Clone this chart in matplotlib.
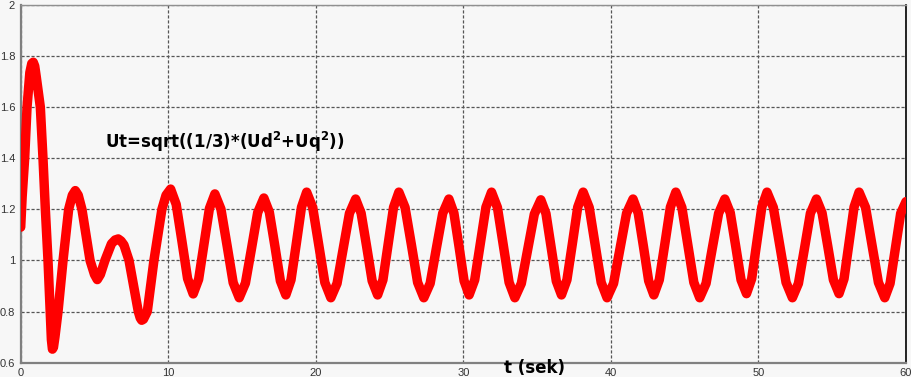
import numpy as np
import matplotlib
matplotlib.use('Agg')
import matplotlib.pyplot as plt

# Ut над временем
t_start = [0.00, 0.10, 0.27, 0.43, 0.62, 0.75, 0.85, 0.95, 1.05, 1.33, 1.51, 1.67, 1.85, 2.00, 2.08,
           2.15, 2.22, 2.32, 2.53, 2.87, 3.25, 3.50, 3.70, 3.90, 4.15, 4.70, 5.00, 5.19, 5.40, 5.71,
           6.15, 6.40, 6.61, 6.80, 7.00, 7.34, 7.97, 8.10, 8.20, 8.32, 8.45, 8.58, 9.03, 9.57, 9.85]
u_start = [1.13, 1.25, 1.40, 1.60, 1.735, 1.77, 1.775, 1.76, 1.72, 1.60, 1.40, 1.20, 1.00, 0.80, 0.69,
           0.653, 0.66, 0.70, 0.80, 1.00, 1.20, 1.255, 1.273, 1.255, 1.20, 1.00, 0.945, 0.925, 0.945, 1.00,
           1.065, 1.080, 1.084, 1.076, 1.06, 1.00, 0.80, 0.775, 0.766, 0.77, 0.785, 0.80, 1.00, 1.20, 1.255]

t_osc = [10.16, 10.54, 10.93, 11.31, 11.69, 12.06, 12.43, 12.79,
         13.16, 13.57, 13.99, 14.40, 14.81, 15.23, 15.65, 16.06,
         16.48, 16.85, 17.23, 17.60, 17.97, 18.32, 18.68, 19.03,
         19.38, 19.79, 20.20, 20.61, 21.02, 21.44, 21.86, 22.28,
         22.70, 23.07, 23.45, 23.82, 24.19, 24.55, 24.91, 25.27,
         25.63, 26.05, 26.48, 26.90, 27.32, 27.75, 28.17, 28.60,
         29.02, 29.36, 29.71, 30.05, 30.39, 30.77, 31.15, 31.53,
         31.91, 32.31, 32.70, 33.10, 33.49, 33.93, 34.37, 34.81,
         35.25, 35.60, 35.95, 36.30, 36.65, 37.02, 37.39, 37.75,
         38.12, 38.53, 38.93, 39.34, 39.74, 40.18, 40.62, 41.06,
         41.50, 41.85, 42.21, 42.56, 42.91, 43.28, 43.66, 44.03,
         44.40, 44.81, 45.21, 45.62, 46.02, 46.45, 46.87, 47.30,
         47.72, 48.09, 48.46, 48.82, 49.19, 49.54, 49.89, 50.23,
         50.58, 51.01, 51.44, 51.87, 52.30, 52.71, 53.12, 53.52,
         53.93, 54.31, 54.70, 55.08, 55.46, 55.80, 56.14, 56.48,
         56.82, 57.26, 57.69, 58.13, 58.56, 58.92, 59.28, 59.64, 60.00]
u_osc = [1.279, 1.219, 1.074, 0.929, 0.869, 0.926, 1.065, 1.203,
         1.260, 1.201, 1.057, 0.913, 0.854, 0.911, 1.049, 1.187,
         1.244, 1.189, 1.055, 0.920, 0.865, 0.924, 1.066, 1.208,
         1.267, 1.207, 1.061, 0.914, 0.854, 0.910, 1.047, 1.184,
         1.240, 1.185, 1.053, 0.920, 0.865, 0.924, 1.066, 1.208,
         1.267, 1.207, 1.061, 0.914, 0.854, 0.910, 1.047, 1.184,
         1.240, 1.185, 1.053, 0.920, 0.865, 0.924, 1.066, 1.208,
         1.267, 1.207, 1.061, 0.914, 0.854, 0.910, 1.046, 1.181,
         1.237, 1.183, 1.051, 0.919, 0.865, 0.924, 1.066, 1.208,
         1.267, 1.207, 1.061, 0.914, 0.854, 0.910, 1.047, 1.184,
         1.240, 1.185, 1.053, 0.920, 0.865, 0.924, 1.066, 1.208,
         1.267, 1.207, 1.061, 0.914, 0.854, 0.910, 1.047, 1.184,
         1.240, 1.186, 1.055, 0.924, 0.870, 0.928, 1.069, 1.209,
         1.267, 1.207, 1.061, 0.914, 0.854, 0.910, 1.047, 1.184,
         1.240, 1.186, 1.055, 0.924, 0.870, 0.928, 1.069, 1.209,
         1.267, 1.207, 1.061, 0.914, 0.854, 0.910, 1.047, 1.184, 1.230]

t = np.array(t_start + t_osc)
u = np.array(u_start + u_osc)

x_ticks = [0, 10, 20, 30, 40, 50, 60]
y_ticks = [0.6, 0.8, 1.0, 1.2, 1.4, 1.6, 1.8, 2.0]
y_labels = ['0.6', '0.8', '1', '1.2', '1.4', '1.6', '1.8', '2']

bg = '#f7f7f7'
fig = plt.figure(figsize=(9.11, 3.77), dpi=100, facecolor=bg)
ax = fig.add_axes([20.7 / 911, 1 - 362.7 / 377, (906 - 20.7) / 911, (362.7 - 4.7) / 377])
ax.set_facecolor(bg)

ax.plot(t, u, color='#ff0000', lw=6.8, solid_joinstyle='round', solid_capstyle='round', zorder=3)

ax.set_xlim(0, 60)
ax.set_ylim(0.6, 2.0)
ax.set_xticks(x_ticks)
ax.set_xticklabels([str(v) for v in x_ticks])
ax.set_yticks(y_ticks)
ax.set_yticklabels(y_labels)
ax.tick_params(length=0, labelsize=8, labelcolor='#333333')
ax.tick_params(axis='x', pad=4)
ax.tick_params(axis='y', pad=4)
for lab in ax.get_xticklabels() + ax.get_yticklabels():
    lab.set_fontfamily('Liberation Sans')

ax.grid(True, color='#555555', linestyle=(0, (2.5, 1.5)), linewidth=0.9, zorder=1)

ax.spines['left'].set_color('#808080')
ax.spines['left'].set_linewidth(1.6)
ax.spines['bottom'].set_color('#808080')
ax.spines['bottom'].set_linewidth(1.6)
ax.spines['top'].set_color('#909090')
ax.spines['top'].set_linewidth(1.0)
ax.spines['right'].set_color('#000000')
ax.spines['right'].set_linewidth(1.2)

ax.text(5.71, 1.463, r'Ut=sqrt((1/3)*(Ud$^{\mathbf{2}}$+Uq$^{\mathbf{2}}$))', fontsize=12,
        fontweight='bold', family='DejaVu Sans', ha='left', va='center', zorder=4)

fig.text(534 / 911, 1 - 368 / 377, 't (sek)', fontsize=12, fontweight='bold',
         family='DejaVu Sans', ha='center', va='center')

fig.savefig('out.png', dpi=100, facecolor=bg)
